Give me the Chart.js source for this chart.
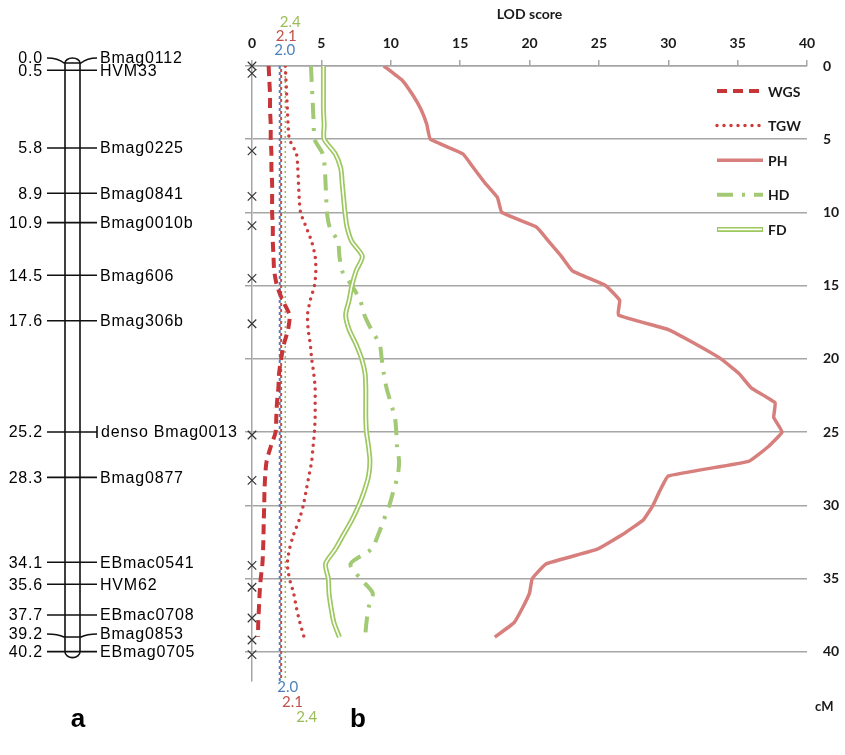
<!DOCTYPE html>
<html>
<head>
<meta charset="utf-8">
<script src="https://cdn.jsdelivr.net/npm/chart.js@4.4.0/dist/chart.umd.min.js"></script>
<style>
  html, body { margin: 0; padding: 0; background: #fff; }
</style>
</head>
<body>
<canvas id="qtl" width="845" height="755"></canvas>
<script>
// positions along the linkage group (cM)
var cM = [0, 1, 2, 3, 4, 5, 6, 7, 8, 9, 10, 11, 12, 13, 14, 15, 16, 17, 18, 19,
          20, 21, 22, 23, 24, 25, 26, 27, 28, 29, 30, 31, 32, 33, 34, 35, 36, 37, 38, 39];

// LOD scores per trait
var WGS = [1.2, 1.25, 1.3, 1.3, 1.35, 1.35, 1.4, 1.4, 1.45, 1.45, 1.45, 1.5, 1.5, 1.55, 1.6, 1.8, 2.2, 2.7, 2.6, 2.3,
           2.1, 1.95, 1.9, 1.8, 1.75, 1.7, 1.35, 1.05, 0.95, 0.9, 0.88, 0.85, 0.83, 0.8, 0.75, 0.63, 0.55, 0.5, 0.45, 0.43];
var TGW = [2.4, 2.45, 2.5, 2.55, 2.6, 2.7, 3.2, 3.3, 3.35, 3.4, 3.5, 3.9, 4.3, 4.55, 4.6, 4.5, 4.2, 4.0, 4.05, 4.2,
           4.3, 4.45, 4.55, 4.55, 4.55, 4.5, 4.4, 4.3, 4.1, 3.9, 3.7, 3.4, 3.0, 2.7, 2.55, 2.7, 3.0, 3.2, 3.45, 3.75];
var PH = [9.5, 10.85, 11.6, 12.2, 12.6, 12.85, 15.2, 16.0, 16.8, 17.7, 18.0, 20.5, 21.4, 22.3, 23.1, 25.5, 26.5, 26.4, 30.0, 32.0,
          33.8, 35.1, 36.0, 37.7, 37.6, 38.2, 37.2, 35.8, 30.0, 29.4, 28.9, 28.2, 26.7, 24.9, 21.2, 20.2, 20.0, 19.5, 18.9, 17.5];
var HD = [4.25, 4.3, 4.35, 4.4, 4.45, 4.5, 5.1, 5.25, 5.3, 5.35, 5.4, 5.6, 6.2, 6.3, 6.5, 7.2, 7.8, 8.1, 8.6, 9.2,
          9.35, 9.5, 9.7, 10.0, 10.3, 10.4, 10.45, 10.6, 10.5, 10.2, 9.9, 9.5, 9.1, 8.6, 7.1, 7.8, 8.7, 8.4, 8.25, 8.15];
var FD = [5.15, 5.15, 5.15, 5.15, 5.2, 5.2, 6.0, 6.4, 6.5, 6.6, 6.7, 6.85, 7.2, 7.95, 7.5, 7.2, 7.0, 6.75, 7.0, 7.5,
          7.9, 8.15, 8.2, 8.2, 8.2, 8.25, 8.4, 8.5, 8.4, 8.1, 7.7, 7.2, 6.6, 6.0, 5.3, 5.5, 5.55, 5.7, 5.9, 6.3];

// linkage map markers
var markerNames = ["Bmag0112", "HVM33", "Bmag0225", "Bmag0841", "Bmag0010b", "Bmag606", "Bmag306b",
                   "denso Bmag0013", "Bmag0877", "EBmac0541", "HVM62", "EBmac0708", "Bmag0853", "EBmag0705"];
var markerPos = [0.0, 0.5, 5.8, 8.9, 10.9, 14.5, 17.6, 25.2, 28.3, 34.1, 35.6, 37.7, 39.2, 40.2];

// LOD thresholds
var thresholds = [2.0, 2.1, 2.4];

function pts(vals) {
    return vals.map(function(v, i) { return {x: v, y: cM[i]}; });
}
function vline(v) {
    return [{x: v, y: 0}, {x: v, y: 42}];
}

var gray = '#a6a6a6';
var tickFont = {family: 'Lato', size: 14, weight: 'bold'};

var mapPlugin = {
    id: 'linkageMap',
    afterDraw: function(chart) {
        var ctx = chart.ctx;
        var y = chart.scales.y, x = chart.scales.x;
        var area = chart.chartArea;
        ctx.save();

        // chromosome body
        var left = 65, right = 80, mid = 72.5;
        var topY = y.getPixelForValue(0) - 3;
        var botY = y.getPixelForValue(40.2) - 3;
        ctx.strokeStyle = '#111';
        ctx.lineWidth = 1.6;
        ctx.beginPath();
        ctx.moveTo(left, botY);
        ctx.lineTo(left, topY);
        ctx.ellipse(mid, topY, 7.5, 5, 0, Math.PI, 0);
        ctx.lineTo(right, botY);
        ctx.ellipse(mid, botY, 7.5, 6, 0, 0, Math.PI);
        ctx.stroke();

        // marker ticks and labels
        ctx.font = '16px "Liberation Sans", Arial, sans-serif';
        ctx.fillStyle = '#000';
        ctx.textBaseline = 'middle';
        try { ctx.letterSpacing = '0.8px'; } catch (e) {}
        var off = {0: -5, 12: -3};
        for (var i = 0; i < markerPos.length; i++) {
            var cy = y.getPixelForValue(markerPos[i]) - 3;
            var ly = cy + (off[i] || 0);
            ctx.beginPath();
            ctx.moveTo(47, ly);
            ctx.quadraticCurveTo(58, ly, 64, cy);
            ctx.lineTo(81, cy);
            ctx.quadraticCurveTo(87, ly, 97, ly);
            ctx.stroke();
            ctx.textAlign = 'right';
            ctx.fillText(markerPos[i].toFixed(1), 43, ly + 1);
            ctx.textAlign = 'left';
            if (markerNames[i].indexOf('denso') === 0) {
                ctx.beginPath();
                ctx.moveTo(97, ly - 6);
                ctx.lineTo(97, ly + 6);
                ctx.stroke();
                ctx.fillText(markerNames[i], 101, ly + 1);
            } else {
                ctx.fillText(markerNames[i], 100, ly + 1);
            }
        }
        try { ctx.letterSpacing = '0px'; } catch (e) {}

        // threshold labels above and below the plot
        var thrCol = ['#4f81bd', '#c0504d', '#9bbb59'];
        ctx.font = '15px Lato, sans-serif';
        ctx.textAlign = 'center';
        for (var t = 0; t < thresholds.length; t++) {
            var tx = x.getPixelForValue(thresholds[t]);
            ctx.fillStyle = thrCol[t];
            ctx.fillText(thresholds[t].toFixed(1), tx + 5, area.top - 16 - 14 * t);
            ctx.fillText(thresholds[t].toFixed(1), tx + 8 + 5 * t * t / 1.5, area.bottom + 6 + 15 * t);
        }

        // cM unit label
        ctx.fillStyle = '#1a1a1a';
        ctx.font = 'bold 13px Lato, sans-serif';
        ctx.textAlign = 'left';
        ctx.fillText('cM', area.right + 8, area.bottom + 26);

        // legend inside the plot
        var names = ['WGS', 'TGW', 'PH', 'HD', 'FD'];
        ctx.font = 'bold 14px Lato, sans-serif';
        names.forEach(function(n, k) {
            var ds = chart.data.datasets.filter(function(d) { return d.label === n; })[0];
            var ly2 = area.top + 25 + 34.6 * k;
            var x0 = area.right - 90, x1 = area.right - 44;
            ctx.save();
            ctx.strokeStyle = ds.borderColor;
            ctx.lineWidth = ds.borderWidth;
            ctx.lineCap = ds.borderCapStyle || 'butt';
            ctx.setLineDash(ds.borderDash || []);
            ctx.beginPath();
            ctx.moveTo(x0, ly2);
            ctx.lineTo(x1, ly2);
            ctx.stroke();
            if (n === 'FD') {
                ctx.strokeStyle = '#fff';
                ctx.lineWidth = 1.6;
                ctx.beginPath();
                ctx.moveTo(x0 + 1, ly2);
                ctx.lineTo(x1 - 1, ly2);
                ctx.stroke();
            }
            ctx.restore();
            ctx.fillStyle = '#1a1a1a';
            ctx.fillText(n, x1 + 5, ly2 + 1);
        });

        // panel letters
        ctx.fillStyle = '#000';
        ctx.font = 'bold 26px "Liberation Sans", Arial, sans-serif';
        ctx.textAlign = 'center';
        ctx.fillText('a', 78, 720);
        ctx.fillText('b', 358, 720);
        ctx.restore();
    }
};

new Chart(document.getElementById('qtl'), {
    type: 'scatter',
    data: {
        datasets: [{
            label: 'markers',
            data: markerPos.map(function(p) { return {x: 0, y: p}; }),
            pointStyle: 'crossRot',
            pointRadius: 6,
            borderColor: '#333',
            borderWidth: 1.2,
            clip: false,
            order: 0
        }, {
            label: 'FD inner',
            data: pts(FD),
            showLine: true, pointRadius: 0,
            borderColor: '#fff', borderWidth: 1.6,
            tension: 0.25, order: 1
        }, {
            label: 'FD',
            data: pts(FD),
            showLine: true, pointRadius: 0,
            borderColor: '#9dc85f', borderWidth: 5,
            tension: 0.25, order: 2
        }, {
            label: 'HD',
            data: pts(HD),
            showLine: true, pointRadius: 0,
            borderColor: '#a2c973', borderWidth: 4,
            borderDash: [16, 9, 3, 9],
            tension: 0.25, order: 3
        }, {
            label: 'PH',
            data: pts(PH),
            showLine: true, pointRadius: 0,
            borderColor: '#d77f7c', borderWidth: 3.5,
            tension: 0.1, order: 4
        }, {
            label: 'TGW',
            data: pts(TGW),
            showLine: true, pointRadius: 0,
            borderColor: '#cc3d3d', borderWidth: 3.5,
            borderDash: [0, 7], borderCapStyle: 'round',
            tension: 0.25, order: 5
        }, {
            label: 'WGS',
            data: pts(WGS),
            showLine: true, pointRadius: 0,
            borderColor: '#c83538', borderWidth: 4,
            borderDash: [10, 6],
            tension: 0.25, order: 6
        }, {
            label: 't2.0',
            data: vline(thresholds[0]),
            showLine: true, pointRadius: 0,
            borderColor: '#4f81bd', borderWidth: 2,
            borderDash: [3, 3], order: 7
        }, {
            label: 't2.1',
            data: vline(thresholds[1]),
            showLine: true, pointRadius: 0,
            borderColor: '#c0504d', borderWidth: 2,
            borderDash: [3, 3], borderDashOffset: 3, order: 8
        }, {
            label: 't2.4',
            data: vline(thresholds[2]),
            showLine: true, pointRadius: 0,
            borderColor: '#9bbb59', borderWidth: 1.5,
            borderDash: [2, 3], order: 9
        }]
    },
    options: {
        responsive: false,
        animation: false,
        devicePixelRatio: 1,
        layout: {padding: {left: 0, right: 0, top: 0, bottom: 74}},
        plugins: {
            legend: {display: false},
            tooltip: {enabled: false}
        },
        scales: {
            x: {
                type: 'linear', position: 'top', min: 0, max: 40,
                ticks: {stepSize: 5, color: '#1a1a1a', font: tickFont, padding: 8},
                grid: {drawOnChartArea: false, drawTicks: true, tickLength: 6, color: gray, lineWidth: 1.5},
                border: {display: true, color: gray, width: 1.5},
                title: {display: true, text: 'LOD score', color: '#1a1a1a',
                        font: {family: 'Lato', size: 14, weight: 'bold'}, padding: {top: 6, bottom: 0}},
                afterFit: function(s) { s.height = 66; }
            },
            y: {
                type: 'linear', position: 'left', reverse: true, min: 0, max: 42,
                ticks: {display: false, stepSize: 5, includeBounds: false},
                grid: {color: gray, lineWidth: 1.5, tickLength: 7, drawTicks: true},
                border: {color: gray, width: 1.5},
                afterFit: function(s) { s.width = 252; }
            },
            y2: {
                type: 'linear', position: 'right', reverse: true, min: 0, max: 42,
                ticks: {stepSize: 5, includeBounds: false, color: '#1a1a1a', font: tickFont, padding: 16},
                grid: {display: false, drawTicks: false},
                border: {display: false},
                afterFit: function(s) { s.width = 38; }
            }
        }
    },
    plugins: [mapPlugin]
});
</script>
</body>
</html>
